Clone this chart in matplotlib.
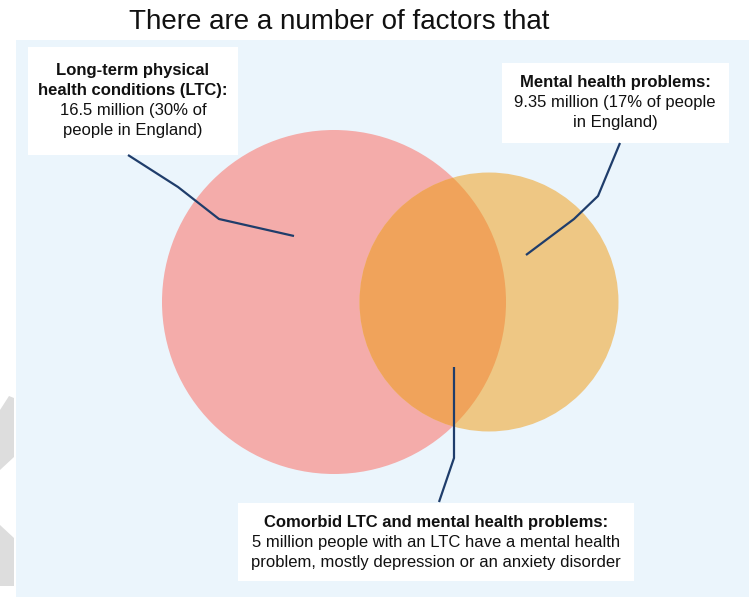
import numpy as np
import matplotlib
matplotlib.use("Agg")
import matplotlib.pyplot as plt
from matplotlib.patches import Circle, Rectangle, Polygon

plt.rcParams["font.family"] = ["Liberation Sans", "DejaVu Sans"]

# ---- data (millions of people in England) ----
groups = ["LTC", "Mental health"]
people_m = [16.5, 9.35]
comorbid_m = 5.0

title = "There are a number of factors that"
ltc_lines = [("Long-term physical", "bold"), ("health conditions (LTC):", "bold"),
             ("16.5 million (30% of", "normal"), ("people in England)", "normal")]
mh_lines = [("Mental health problems:", "bold"), ("9.35 million (17% of people", "normal"),
            ("in England)", "normal")]
co_lines = [("Comorbid LTC and mental health problems:", "bold"),
            ("5 million people with an LTC have a mental health", "normal"),
            ("problem, mostly depression or an anxiety disorder", "normal")]

# ---- layout (pixel space) ----
W, H = 749, 597
fig = plt.figure(figsize=(W / 100, H / 100), dpi=100)
ax = fig.add_axes([0, 0, 1, 1])
ax.set_xlim(0, W)
ax.set_ylim(H, 0)
ax.axis("off")

# light blue panel + grey chevrons on the left edge
ax.add_patch(Rectangle((16, 40), W - 16, H - 40, fc="#EBF5FC", ec="none"))
ax.add_patch(Polygon([(0, 410), (9, 396), (14, 398), (14, 457), (0, 470)], fc="#DDDDDD", ec="none"))
ax.add_patch(Polygon([(0, 525), (14, 538), (14, 586), (0, 586)], fc="#DDDDDD", ec="none"))

ax.text(339, 22, title, ha="center", va="center", fontsize=20, color="#111111")

# area-proportional circles
scale = 172 / np.sqrt(people_m[0])
radii = [scale * np.sqrt(v) for v in people_m]
centers = [(334, 302), (489, 302)]
c_ltc = Circle(centers[0], radii[0], fc="#F4ACAA", ec="none")
c_mh = Circle(centers[1], radii[1], fc="#EEC784", ec="none")
ax.add_patch(c_ltc)
ax.add_patch(c_mh)
overlap = Circle(centers[1], radii[1], fc="#F0A35B", ec="none")
ax.add_patch(overlap)
overlap.set_clip_path(c_ltc)

# leader lines
navy = "#1F3D6B"
leaders = [
    [(128, 155), (178, 187), (219, 219), (294, 236)],
    [(620, 143), (598, 196), (574, 219), (526, 255)],
    [(454, 367), (454, 458), (439, 502)],
]
for pts in leaders:
    xs, ys = zip(*pts)
    ax.plot(xs, ys, color=navy, lw=1.6, solid_capstyle="butt")

# label boxes
def label(box, cx, y0, lines, step=20):
    x0, y_top, x1, y1 = box
    ax.add_patch(Rectangle((x0, y_top), x1 - x0, y1 - y_top, fc="white", ec="none"))
    for i, (txt, wt) in enumerate(lines):
        ax.text(cx, y0 + i * step, txt, ha="center", va="center", fontsize=12,
                fontweight=wt, color="#111111")

label((28, 47, 238, 155), 133, 71, ltc_lines)
label((502, 63, 729, 143), 615, 83, mh_lines)
label((238, 503, 634, 581), 436, 522, co_lines)

fig.savefig("out.png", dpi=100)
